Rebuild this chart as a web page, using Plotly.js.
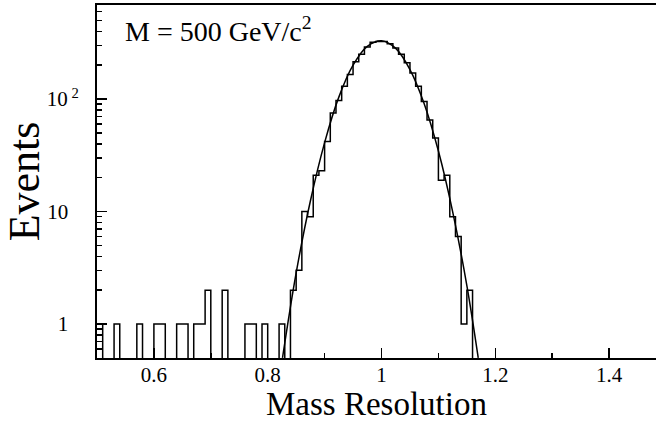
<!DOCTYPE html>
<html>
<head>
<meta charset="utf-8">
<script src="https://cdn.plot.ly/plotly-3.0.1.min.js"></script>
<style>html,body{margin:0;padding:0;background:#fff;}#chart{width:656px;height:422px;}</style>
</head>
<body>
<div id="chart"></div>
<script>
// Histogram: 100 bins of width 0.01 starting at 0.5
var binLow = 0.5;
var binWidth = 0.01;
var counts = [
  1,0,0,1,0,0,0,1,0,0,
  1,1,0,0,1,1,0,1,1,2,
  0,0,2,0,0,0,1,1,0,1,
  0,0,1,0,2,3,10,9,21,23,
  42,75,97,130,165,215,250,290,320,325,
  325,310,285,250,210,170,130,95,65,45,
  19,21,9,6,1,2,0,0,0,0,
  0,0,0,0,0,0,0,0,0,0,
  0,0,0,0,0,0,0,0,0,0,
  0,0,0,0,0,0,0,0,0,0
];
// Fitted Gaussian curve
var fitX = [0.826,0.85,0.875,0.9,0.925,0.95,0.975,1.0,1.025,1.05,1.075,1.1,1.125,1.15,1.17];
var fitY = [0.5,2.85,12.4,41,104,200,294,330,282,183,91,34.5,10,2.2,0.5];

var NB = '\u00A0';
var yTickVals = [1,10,100];
var yTickText = ['1' + NB + NB, '10' + NB + NB, '10<sup> 2</sup>'];
var yMinor = [0.6,0.7,0.8,0.9,2,3,4,5,6,7,8,9,20,30,40,50,60,70,80,90,200,300,400,500,600];
var xTickVals = [0.6,0.8,1.0,1.2,1.4];
var xTickText = ['0.6','0.8','1','1.2','1.4'];
var xMinor = [0.5,0.7,0.9,1.1,1.3];

var label = 'M = 500 GeV/c<sup>2</sup>';
var xTitle = 'Mass Resolution';
var yTitle = 'Events';

// step outline
var hx = [], hy = [];
for (var i = 0; i < counts.length; i++) {
  hx.push(binLow + i * binWidth);
  hy.push(counts[i] > 0 ? counts[i] : 0.01);
}
hx.push(binLow + counts.length * binWidth);
hy.push(counts[counts.length - 1] > 0 ? counts[counts.length - 1] : 0.01);

var serif = 'Liberation Serif, Times New Roman, serif';

var traces = [
  {x: hx, y: hy, type: 'scatter', mode: 'lines', line: {shape: 'hv', color: '#000', width: 1.5}, hoverinfo: 'skip'},
  {x: fitX, y: fitY, type: 'scatter', mode: 'lines', line: {shape: 'spline', smoothing: 1, color: '#000', width: 1.5}, hoverinfo: 'skip'}
];

var layout = {
  width: 656, height: 422,
  margin: {l: 97, r: 0, t: 5, b: 64},
  paper_bgcolor: '#fff', plot_bgcolor: '#fff',
  showlegend: false,
  font: {family: serif, color: '#000', size: 20},
  xaxis: {
    range: [0.5, 1.4824],
    showgrid: false, zeroline: false,
    showline: true, linecolor: '#000', linewidth: 2, mirror: true,
    ticks: 'inside', ticklen: 10, tickwidth: 1.5, tickcolor: '#000',
    tickvals: xTickVals, ticktext: xTickText,
    tickfont: {family: serif, size: 21, color: '#000'},
    ticklabelstandoff: -3,
    minor: {tickvals: xMinor, ticks: 'inside', ticklen: 5, tickwidth: 1.5, tickcolor: '#000'},
    title: {text: xTitle, font: {family: serif, size: 33, color: '#000'}, standoff: 0}
  },
  yaxis: {
    type: 'log',
    range: [-0.302, 2.836],
    showgrid: false, zeroline: false,
    showline: true, linecolor: '#000', linewidth: 2, mirror: false,
    ticks: 'inside', ticklen: 10, tickwidth: 1.5, tickcolor: '#000',
    tickvals: yTickVals, ticktext: yTickText,
    tickfont: {family: serif, size: 21, color: '#000'},
    ticklabelstandoff: 12,
    minor: {tickvals: yMinor, ticks: 'inside', ticklen: 5, tickwidth: 1.5, tickcolor: '#000'},
    title: {text: yTitle, font: {family: serif, size: 44, color: '#000'}, standoff: 2}
  },
  annotations: [{
    text: label, xref: 'paper', yref: 'paper', x: 0.047, y: 0.985,
    xanchor: 'left', yanchor: 'top', showarrow: false,
    font: {family: serif, size: 28, color: '#000'}
  }]
};

Plotly.newPlot('chart', traces, layout, {displayModeBar: false, staticPlot: true});
</script>
</body>
</html>
